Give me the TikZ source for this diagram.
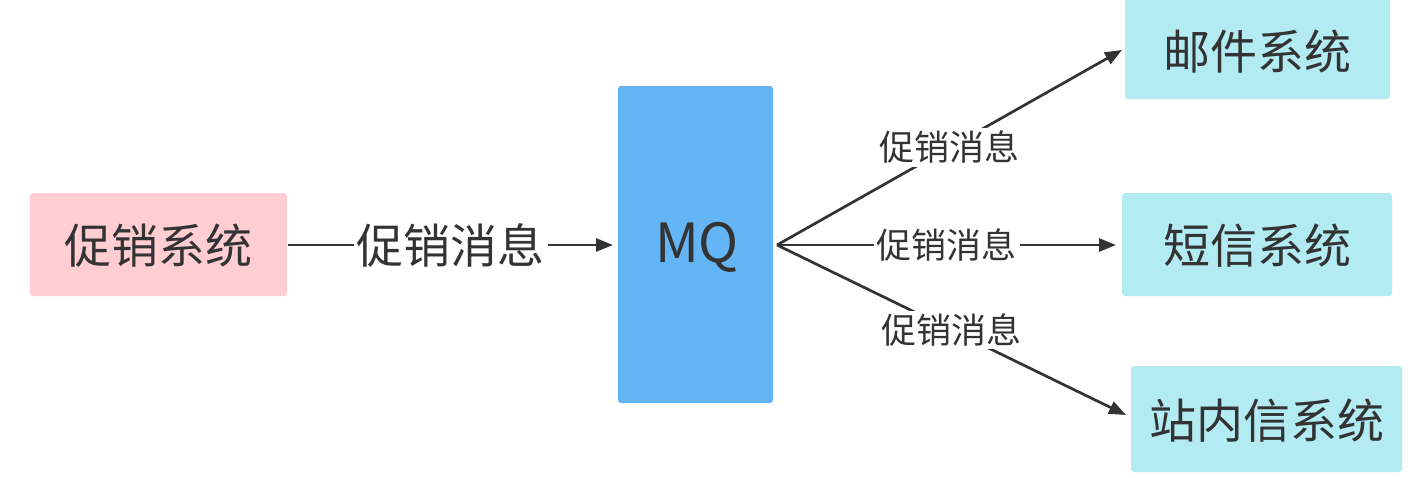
\documentclass[tikz,border=0pt]{standalone}
\usepackage{fontspec}
\setmainfont{Noto Sans CJK SC}
\usetikzlibrary{arrows.meta}
\definecolor{pinkbox}{HTML}{FFCDD2}
\definecolor{bluebox}{HTML}{64B5F6}
\definecolor{cyanbox}{HTML}{B2EBF2}
\definecolor{ink}{HTML}{333333}
\begin{document}
\begin{tikzpicture}[x=1pt,y=-1pt,
  box/.style={rounded corners=3pt, draw=none, inner sep=0pt, text=ink, font=\fontsize{47}{52}\selectfont},
  conn/.style={draw=ink, line width=2.7pt, -{Triangle[length=17pt,width=13pt]}},
  biglbl/.style={fill=white, inner sep=3pt, text=ink, font=\fontsize{47}{52}\selectfont},
  lbl/.style={fill=white, inner sep=3pt, text=ink, font=\fontsize{35}{40}\selectfont}]
\useasboundingbox (0,0) rectangle (1416,477);
\fill[pinkbox, rounded corners=3pt] (30,193) rectangle (287,296);
\node[box] (src) at (158.5,246) {促销系统};
\coordinate (srcE) at (288,245);
\fill[bluebox, rounded corners=3pt] (618,86) rectangle (773,403);
\node[box, font=\fontsize{54}{60}\selectfont] (mq) at (697,247) {MQ};
\coordinate (mqW) at (613,245);
\coordinate (mqE) at (777,245);
\fill[cyanbox, rounded corners=3pt] (1125,-5) rectangle (1390,99);
\node[box] (mail) at (1257.5,52) {邮件系统};
\coordinate (mailW) at (1122,50);
\fill[cyanbox, rounded corners=3pt] (1122,193) rectangle (1392,296);
\node[box] (sms) at (1257,246) {短信系统};
\coordinate (smsW) at (1116,245);
\fill[cyanbox, rounded corners=3pt] (1131,366) rectangle (1402,472);
\node[box] (site) at (1266.5,421) {站内信系统};
\coordinate (siteW) at (1126,415);
\draw[conn] (srcE) -- node[biglbl] {促销消息} (mqW);
\draw[conn] (mqE) -- node[lbl, pos=0.5] {促销消息} (mailW);
\draw[conn] (mqE) -- node[lbl] {促销消息} (smsW);
\draw[conn] (mqE) -- node[lbl] {促销消息} (siteW);
\end{tikzpicture}
\end{document}
